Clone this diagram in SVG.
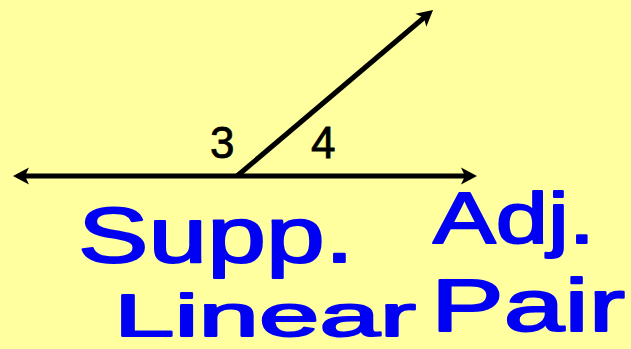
<svg xmlns="http://www.w3.org/2000/svg" width="631" height="349" viewBox="0 0 631 349">
  <defs>
    <marker id="arrow" markerUnits="userSpaceOnUse" markerWidth="30" markerHeight="30" viewBox="-15 -15 30 30" refX="0" refY="0" orient="auto-start-reverse" overflow="visible">
      <path d="M7,0 L-9,-8.5 L-5,0 L-9,8.5 Z" fill="#000"/>
    </marker>
    <style>
      .ray { stroke:#000; stroke-width:5; fill:none; }
      .num { font-family:"Liberation Sans", Arial, sans-serif; font-size:44px; fill:#000; stroke:#000; stroke-width:0.8; }
      .hand { font-family:"Liberation Sans", Arial, sans-serif; fill:#0000F2; stroke:#0000F2; stroke-width:2; stroke-linejoin:round; stroke-linecap:round; }
    </style>
  </defs>
  <rect x="0" y="0" width="631" height="349" fill="#FFFFA0"/>
  <g id="connectors">
    <line class="ray" x1="20" y1="176" x2="470" y2="176" marker-start="url(#arrow)" marker-end="url(#arrow)"/>
    <line class="ray" x1="237" y1="176" x2="427.7" y2="14.5" marker-end="url(#arrow)"/>
  </g>
  <g id="angle3"><text class="num" x="210" y="158">3</text></g>
  <g id="angle4"><text class="num" x="311" y="158">4</text></g>
  <g id="supp"><text class="hand" x="78" y="262" font-size="78" textLength="276" lengthAdjust="spacingAndGlyphs">Supp.</text></g>
  <g id="adj"><text class="hand" x="433" y="243" font-size="72" textLength="162" lengthAdjust="spacingAndGlyphs">Adj.</text></g>
  <g id="linear"><text class="hand" x="114" y="336" font-size="60" textLength="302" lengthAdjust="spacingAndGlyphs">Linear</text></g>
  <g id="pair"><text class="hand" x="431" y="331" font-size="74" textLength="194" lengthAdjust="spacingAndGlyphs">Pair</text></g>
</svg>
